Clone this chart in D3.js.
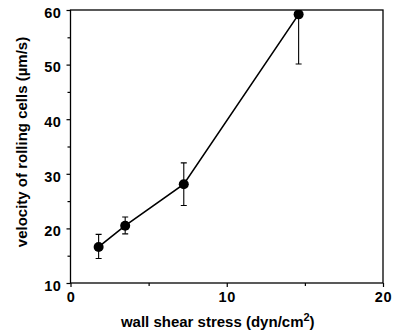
<!DOCTYPE html>
<html>
<head>
<meta charset="utf-8">
<script src="https://cdn.jsdelivr.net/npm/d3@7"></script>
<style>
  body { margin: 0; background: #fff; }
  text { font-family: "Liberation Sans", Arial, sans-serif; font-weight: bold; fill: #000; }
</style>
</head>
<body>
<svg width="393" height="333"></svg>
<script>
// wall shear stress (dyn/cm2) vs velocity of rolling cells (um/s)
const shear = [1.8, 3.5, 7.25, 14.6];
const velocity = [16.6, 20.5, 28.1, 59.2];
const errLow = [14.5, 19.0, 24.2, 50.1];
const errHigh = [18.9, 22.1, 32.0, 68.3];
const xTicks = [0, 10, 20];
const yTicks = [10, 20, 30, 40, 50, 60];

const points = shear.map((d, i) => ({ x: d, y: velocity[i], lo: errLow[i], hi: errHigh[i] }));

const svg = d3.select('svg');
const margin = { top: 10, right: 10, bottom: 50, left: 70.5 };
const width = +svg.attr('width') - margin.left - margin.right;
const height = +svg.attr('height') - margin.top - margin.bottom;

const x = d3.scaleLinear().domain([0, 20]).range([0, width]);
const y = d3.scaleLinear().domain([10, 60]).range([height, 0]);

const chart = svg.append('g').attr('transform', `translate(${margin.left},${margin.top})`);

svg.append('defs').append('clipPath').attr('id', 'plot')
  .append('rect').attr('x', -10).attr('y', 0).attr('width', width + 20).attr('height', height + 10);

// frame
chart.append('rect')
  .attr('width', width).attr('height', height)
  .attr('fill', 'none').attr('stroke', '#000').attr('stroke-width', 1.3);

// minor ticks
chart.append('g').attr('transform', `translate(0,${height})`)
  .call(d3.axisBottom(x).tickValues([5, 15]).tickSize(3).tickFormat(''))
  .call(g => g.select('.domain').remove());
chart.append('g')
  .call(d3.axisLeft(y).tickValues([15, 25, 35, 45, 55]).tickSize(3).tickFormat(''))
  .call(g => g.select('.domain').remove());

const xAxis = chart.append('g').attr('transform', `translate(0,${height})`)
  .call(d3.axisBottom(x).tickValues(xTicks).tickSize(4).tickPadding(5).tickFormat(d3.format('d')));
const yAxis = chart.append('g')
  .call(d3.axisLeft(y).tickValues(yTicks).tickSize(4).tickPadding(5).tickFormat(d3.format('d')));
[xAxis, yAxis].forEach(a => {
  a.select('.domain').remove();
  a.selectAll('text').style('font-size', '14.5px').style('font-family', '"Liberation Sans", Arial, sans-serif')
    .style('font-weight', 'bold').style('letter-spacing', '0.6px');
});
yAxis.selectAll('text').attr('dy', '0.5em');
chart.selectAll('.tick line').attr('stroke-width', 1.2);

const data = chart.append('g').attr('clip-path', 'url(#plot)');

// error bars
const eb = data.selectAll('g.err').data(points).enter().append('g').attr('class', 'err');
eb.append('line')
  .attr('x1', d => x(d.x)).attr('x2', d => x(d.x))
  .attr('y1', d => y(d.lo)).attr('y2', d => y(d.hi))
  .attr('stroke', '#000').attr('stroke-width', 1.1);
['lo', 'hi'].forEach(k => {
  eb.append('line')
    .attr('x1', d => x(d.x) - 3).attr('x2', d => x(d.x) + 3)
    .attr('y1', d => y(d[k])).attr('y2', d => y(d[k]))
    .attr('stroke', '#000').attr('stroke-width', 1.1);
});

// line
data.append('path').datum(points)
  .attr('fill', 'none').attr('stroke', '#000').attr('stroke-width', 1.6)
  .attr('d', d3.line().x(d => x(d.x)).y(d => y(d.y)));

// markers
data.selectAll('circle').data(points).enter().append('circle')
  .attr('cx', d => x(d.x)).attr('cy', d => y(d.y)).attr('r', 5).attr('fill', '#000');

// axis titles
const xt = svg.append('text')
  .attr('x', margin.left + width / 2 - 9).attr('y', 327)
  .attr('text-anchor', 'middle').style('font-size', '15px');
xt.append('tspan').text('wall shear stress (dyn/cm');
xt.append('tspan').attr('dy', -6).style('font-size', '11px').text('2');
xt.append('tspan').attr('dy', 6).text(')');

svg.append('text')
  .attr('transform', `translate(27,${margin.top + 132}) rotate(-90)`)
  .attr('text-anchor', 'middle').style('font-size', '15px')
  .text('velocity of rolling cells (\u00b5m/s)');
</script>
</body>
</html>
